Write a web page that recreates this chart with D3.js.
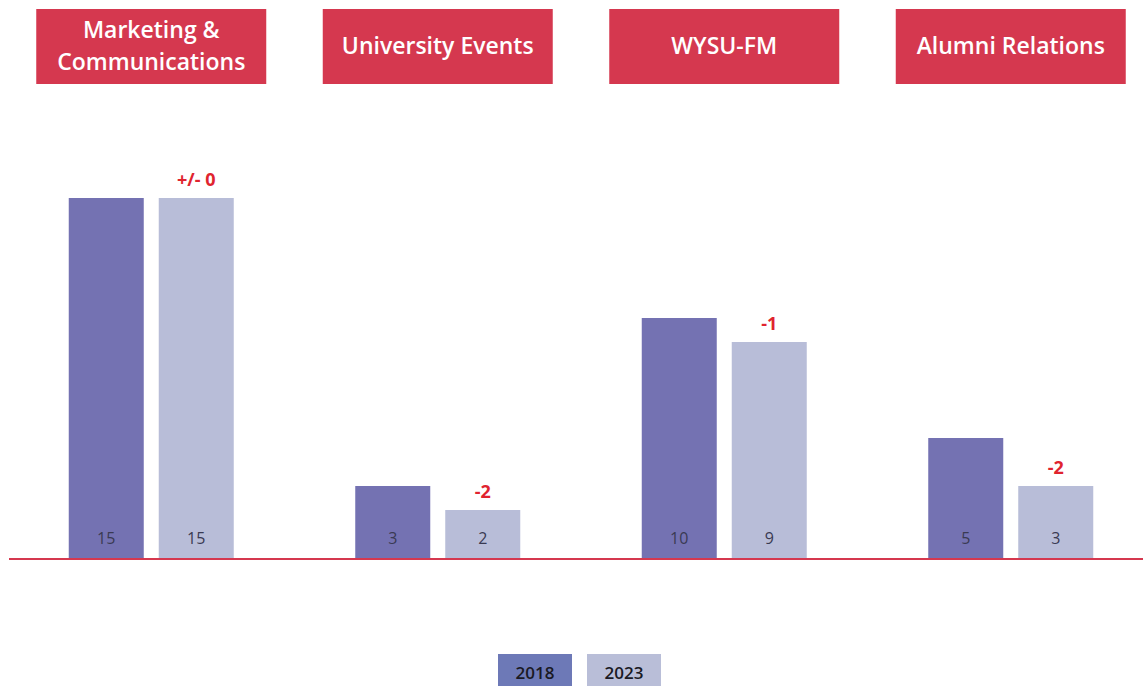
<!DOCTYPE html>
<html>
<head>
<meta charset="utf-8">
<script src="https://cdn.jsdelivr.net/npm/d3@7"></script>
<style>
  html, body { margin: 0; padding: 0; background: #fff; }
  svg { display: block; }
</style>
</head>
<body>
<svg id="chart"></svg>
<script>
// data
var categories = ["Marketing & Communications", "University Events", "WYSU-FM", "Alumni Relations"];
var headerLines = [["Marketing &", "Communications"], ["University Events"], ["WYSU-FM"], ["Alumni Relations"]];
var years = ["2018", "2023"];
var values2018 = [15, 3, 10, 5];
var values2023 = [15, 2, 9, 3];
var changeLabels = ["+/- 0", "-2", "-1", "-2"];

var width = 1143, height = 686;
var red = "#d5384f";
var colors = {"2018": "#7472b2", "2023": "#b8bdd8"};
var legendColors = {"2018": "#6d79b7", "2023": "#b9bed8"};

var svg = d3.select("#chart")
    .attr("width", width)
    .attr("height", height);

// scales
var x = d3.scaleBand()
    .domain(categories)
    .range([8, 1154]);

var xInner = d3.scaleBand()
    .domain(years)
    .range([0, 165])
    .paddingInner(1 / 6);

var y = d3.scaleLinear()
    .domain([0, 15])
    .range([558, 198]);

var rows = categories.map(function(c, i) {
    return {cat: c, lines: headerLines[i], change: changeLabels[i],
            v: {"2018": values2018[i], "2023": values2023[i]}};
});

// header boxes
var hdr = svg.selectAll("g.hdr")
    .data(rows)
    .enter()
    .append("g")
    .attr("class", "hdr")
    .attr("transform", function(d) {
        return "translate(" + (x(d.cat) + x.bandwidth() / 2) + ",0)";
    });

hdr.append("rect")
    .attr("x", -115)
    .attr("y", 9)
    .attr("width", 230)
    .attr("height", 75)
    .attr("fill", red);

hdr.each(function(d) {
    var g = d3.select(this);
    var n = d.lines.length;
    d.lines.forEach(function(s, j) {
        g.append("text")
            .attr("x", 0)
            .attr("y", 46 + (j - (n - 1) / 2) * 31.5)
            .attr("dy", "0.35em")
            .attr("text-anchor", "middle")
            .attr("fill", "#fff")
            .style("font-family", "'Open Sans', Lato, sans-serif")
            .style("font-weight", 600)
            .style("font-size", "23px")
            .text(s);
    });
});

// bars
var grp = svg.selectAll("g.grp")
    .data(rows)
    .enter()
    .append("g")
    .attr("class", "grp")
    .attr("transform", function(d) {
        return "translate(" + (x(d.cat) + x.bandwidth() / 2 - 82.5) + ",0)";
    });

grp.selectAll("rect")
    .data(function(d) { return years.map(function(yr) { return {yr: yr, v: d.v[yr]}; }); })
    .enter()
    .append("rect")
    .attr("x", function(d) { return xInner(d.yr); })
    .attr("y", function(d) { return y(d.v); })
    .attr("width", xInner.bandwidth())
    .attr("height", function(d) { return y(0) - y(d.v); })
    .attr("fill", function(d) { return colors[d.yr]; });

grp.selectAll("text.val")
    .data(function(d) { return years.map(function(yr) { return {yr: yr, v: d.v[yr]}; }); })
    .enter()
    .append("text")
    .attr("class", "val")
    .attr("x", function(d) { return xInner(d.yr) + xInner.bandwidth() / 2; })
    .attr("y", 544)
    .attr("text-anchor", "middle")
    .attr("fill", "#3a3a52")
    .style("font-family", "'Open Sans', 'Liberation Sans', sans-serif")
    .style("font-size", "16px")
    .text(function(d) { return d.v; });

// change labels
grp.append("text")
    .attr("x", xInner("2023") + xInner.bandwidth() / 2)
    .attr("y", function(d) { return y(d.v["2023"]) - 12; })
    .attr("text-anchor", "middle")
    .attr("fill", "#e0242f")
    .style("font-family", "'Open Sans', 'Liberation Sans', sans-serif")
    .style("font-weight", 700)
    .style("font-size", "18px")
    .text(function(d) { return d.change; });

// baseline
svg.append("line")
    .attr("x1", 9)
    .attr("x2", width)
    .attr("y1", y(0) + 1)
    .attr("y2", y(0) + 1)
    .attr("stroke", red)
    .attr("stroke-width", 2);

// legend
var leg = svg.selectAll("g.leg")
    .data(years)
    .enter()
    .append("g")
    .attr("class", "leg")
    .attr("transform", function(d, i) { return "translate(" + (498 + i * 89) + ",654)"; });

leg.append("rect")
    .attr("width", 74)
    .attr("height", 40)
    .attr("fill", function(d) { return legendColors[d]; });

leg.append("text")
    .attr("x", 37)
    .attr("y", 25)
    .attr("text-anchor", "middle")
    .attr("fill", "#1a1a24")
    .style("font-family", "'Open Sans', 'Liberation Sans', sans-serif")
    .style("font-weight", 600)
    .style("font-size", "17px")
    .text(function(d) { return d; });
</script>
</body>
</html>
